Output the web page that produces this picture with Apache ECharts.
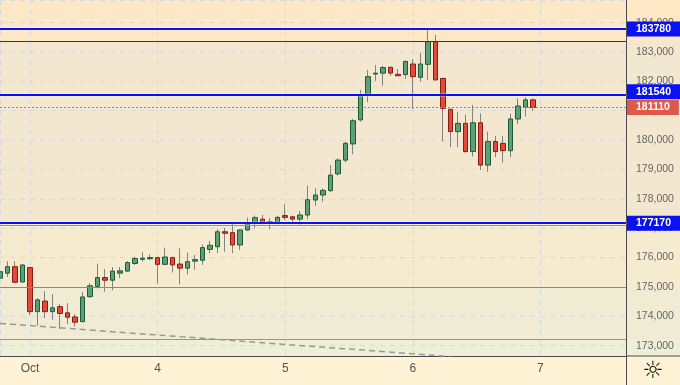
<!DOCTYPE html>
<html><head><meta charset="utf-8">
<script src="https://cdn.jsdelivr.net/npm/echarts@6/dist/echarts.min.js"></script>
<style>html,body{margin:0;padding:0;background:#f3e7cf}#c{width:680px;height:385px}</style>
</head><body><div id="c"></div>
<script>
// ---- data ----
const dayLabels = ['Oct', '4', '5', '6', '7'];
const candlesPerDay = 17;
const firstCandle = -4;            // candle index of first visible candle (0 = start of 'Oct')
const opens  = [175300,175470,175690,175170,175660,174160,174520,174160,174330,174120,173980,173820,174670,175020,175320,175230,175470,175540,175800,175940,175960,176000,175770,176000,175780,175640,175880,175910,176280,176370,176880,176850,176430,176940,177170,177310,177220,177200,177430,177390,177310,177450,177960,178130,178280,178850,179320,179870,180690,181540,182250,182280,182480,182240,182230,182590,182140,182580,183350,182100,181050,180290,180570,179610,180590,179150,179950,179890,179640,180720,181120,181370];
const closes = [175520,175690,175160,175750,174160,174560,174160,174290,174100,173970,173800,174660,175040,175320,175230,175540,175550,175830,175970,175980,176000,175770,176020,175750,175640,175860,175930,176340,176420,176880,176830,176430,176940,177140,177360,177200,177190,177370,177370,177310,177450,177970,178130,178290,178810,179320,179890,180660,181540,182160,182280,182470,182280,182190,182680,182160,182590,183350,182050,181080,180290,180570,179610,180590,179150,179950,179610,179640,180720,181160,181370,181110];
const lows   = [175180,175340,175160,175160,174050,173680,173940,173880,173570,173740,173650,173800,174630,174950,174840,174890,175300,175520,175750,175860,175920,175120,175750,175490,175090,175430,175580,175750,176150,176160,176200,176150,176260,176920,177000,177130,176970,177130,177280,177130,177090,177310,177770,177900,178240,178790,179240,179520,180630,181290,182010,181850,182190,182180,182080,181060,181990,182050,182040,179950,179760,179760,179570,179440,178980,178920,179420,179230,179420,180550,180800,181000];
const highs  = [175690,175880,175880,175760,175660,174620,174860,174760,174420,174450,174080,174830,175130,175790,175610,175680,175680,175880,176030,176180,176110,176030,176340,176030,176320,176170,176090,176450,176570,176970,177010,177220,176960,177370,177430,177450,177340,177430,177810,177430,177590,178450,178360,178360,179150,179380,179950,180720,181710,182390,182560,182530,182500,182420,182700,182760,182960,183770,183580,182110,181060,180970,180860,181200,180910,180290,180140,180140,180890,181420,181460,181420];
const keyLevels   = [183780, 181540, 177170];   // labelled blue levels
const minorLevels = [183360, 177100];
const lastPrice   = 181110;
const zoneLines   = [175000, 173220];
const trendLine   = [[-4, 173760], [56, 172630]];
const yRange = [172650, 184770];
const yStep = 1000;
const xRange = [firstCandle, 79.4];

// ---- build ----
const idx = opens.map((_, i) => firstCandle + i);
const candleData = opens.map((o, i) => [idx[i], o, closes[i], lows[i], highs[i]]);
const bodyData = opens.map((o, i) => [idx[i], o, closes[i], Math.min(o, closes[i]), Math.max(o, closes[i])]);

const FONT = 'Liberation Sans, Arial, sans-serif';
const BLUE = '#0b12f2';
function tag(bg, dy) {
  return { show: true, position: 'end', distance: 1, formatter: p => String(p.value),
    backgroundColor: bg, color: '#fff', fontWeight: 'bold', fontSize: 10.5, fontFamily: FONT,
    padding: [2, 9, 2, 9], lineHeight: 11, offset: [0, dy || 0] };
}
const halo = { shadowColor: 'rgba(255,255,255,0.95)', shadowBlur: 2 };

const chart = echarts.init(document.getElementById('c'), null, { renderer: 'canvas' });
chart.setOption({
  animation: false,
  backgroundColor: '#f3e7cf',
  textStyle: { fontFamily: FONT },
  grid: { left: 0, right: 54, top: 0, bottom: 29 },
  xAxis: {
    type: 'value', min: xRange[0], max: xRange[1],
    minInterval: candlesPerDay, maxInterval: candlesPerDay,
    axisLine: { show: true, onZero: false, lineStyle: { color: '#4a4a4a', width: 1 } },
    axisTick: { show: false },
    splitLine: { show: true, lineStyle: { color: '#d6d6de', type: [5, 5], width: 1 } },
    axisLabel: { showMinLabel: false, showMaxLabel: false, color: '#555', fontSize: 12, margin: 7,
      formatter: v => { const d = Math.round(v / candlesPerDay); return (Math.abs(v - d * candlesPerDay) < 1e-6 && dayLabels[d]) ? dayLabels[d] : ''; } }
  },
  yAxis: {
    type: 'value', position: 'right', min: yRange[0], max: yRange[1],
    minInterval: yStep, maxInterval: yStep,
    axisLine: { show: true, onZero: false, lineStyle: { color: '#4a4a4a', width: 1 } },
    axisTick: { show: false },
    splitLine: { show: true, lineStyle: { color: '#d8d8de', type: [5, 5], width: 1 } },
    axisLabel: { showMinLabel: false, showMaxLabel: false, color: '#666', fontSize: 10.5, margin: 10 }
  },
  series: [
    { type: 'candlestick', data: candleData, barWidth: 1, silent: true,
      encode: { x: 0, y: [1, 2, 3, 4] },
      itemStyle: { color: '#828282', color0: '#828282', borderColor: '#828282', borderColor0: '#828282', borderWidth: 1 } },
    { type: 'candlestick', data: bodyData, barWidth: 5, silent: true,
      encode: { x: 0, y: [1, 2, 3, 4] },
      itemStyle: { color: '#5c9f7b', color0: '#e04b3b', borderColor: '#1f5a36', borderColor0: '#8c1c12', borderWidth: 1 },
      markLine: {
        silent: true, symbol: ['none', 'none'], precision: 0, animation: false,
        label: { show: false },
        data: [
          { yAxis: minorLevels[0], lineStyle: { color: '#2020e8', width: 1, type: 'solid' } },
          { yAxis: minorLevels[1], lineStyle: { color: '#8a8ab8', width: 1, type: 'solid' } },
          { yAxis: zoneLines[0], lineStyle: { color: '#3d9fe0', width: 1, type: 'solid' } },
          { yAxis: zoneLines[1], lineStyle: { color: '#2ec89a', width: 1, type: 'solid' } },
          { yAxis: lastPrice, lineStyle: { color: '#ec6450', width: 1, type: [2, 2] }, label: tag('#dd5a4a') },
          { yAxis: keyLevels[0], lineStyle: Object.assign({ color: BLUE, width: 2, type: 'solid' }, halo), label: tag(BLUE) },
          { yAxis: keyLevels[1], lineStyle: Object.assign({ color: BLUE, width: 2, type: 'solid' }, halo), label: tag(BLUE, -3) },
          { yAxis: keyLevels[2], lineStyle: Object.assign({ color: BLUE, width: 2, type: 'solid' }, halo), label: tag(BLUE) }
        ]
      } },
    { type: 'line', data: trendLine, showSymbol: false, silent: true, clip: true, z: 1,
      lineStyle: { color: '#999', width: 1.5, type: [6, 4] } }
  ]
});

// background bands across the full width, positioned by the y scale
const W = chart.getWidth(), H = chart.getHeight();
const yPix = v => chart.convertToPixel({ yAxisIndex: 0 }, v);
const xPix = v => chart.convertToPixel({ xAxisIndex: 0 }, v);
const bands = [
  [yRange[1], minorLevels[0], '#fde8c6'],
  [minorLevels[0], keyLevels[2], '#f3e7cf'],
  [keyLevels[2], zoneLines[0], '#f6ebcf'],
  [zoneLines[0], zoneLines[1], '#f0ecd4'],
  [zoneLines[1], yRange[0], '#edefd6']
];
const yBottom = yPix(yRange[0]);
const xRight = xPix(xRange[1]);
const graphics = bands.map(b => ({ type: 'rect', z: -10, silent: true,
  shape: { x: 0, y: yPix(b[0]), width: W, height: yPix(b[1]) - yPix(b[0]) }, style: { fill: b[2] } }));
graphics.push({ type: 'rect', z: -10, silent: true, shape: { x: 0, y: yBottom, width: W, height: H - yBottom }, style: { fill: '#fff3d6' } });
graphics.push({ type: 'line', z: 5, silent: true, shape: { x1: xRight, y1: yBottom, x2: W, y2: yBottom }, style: { stroke: '#4a4a4a', lineWidth: 1 } });
graphics.push({ type: 'line', z: 5, silent: true, shape: { x1: Math.round(xRight) + 0.5, y1: yBottom, x2: Math.round(xRight) + 0.5, y2: H }, style: { stroke: '#4a4a4a', lineWidth: 1 } });
graphics.push({ type: 'text', z: 5, silent: true, x: (xRight + W) / 2, y: (yBottom + H) / 2 + 1,
  style: { text: '\u263C', fontSize: 24, fontFamily: 'DejaVu Sans', fill: '#111', align: 'center', verticalAlign: 'middle' } });
chart.setOption({ graphic: graphics });
</script></body></html>
